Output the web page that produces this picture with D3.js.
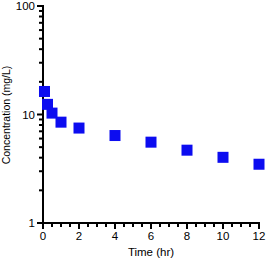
<!DOCTYPE html>
<html><head><meta charset="utf-8">
<script src="https://cdn.jsdelivr.net/npm/d3@7"></script>
<style>body{margin:0;background:#fff}svg{display:block}text{font-family:"Liberation Sans",Arial,sans-serif;fill:#000}</style>
</head><body>
<script>
const times = [0.083, 0.25, 0.5, 1, 2, 4, 6, 8, 10, 12];
const conc = [16.3, 12.4, 10.3, 8.5, 7.5, 6.4, 5.56, 4.69, 4.03, 3.48];
const xTickLabels = [0, 2, 4, 6, 8, 10, 12];
const yTickLabels = [1, 10, 100];
const xLabel = "Time (hr)";
const yLabel = "Concentration (mg/L)";

const W = 270, H = 260;
const svg = d3.select("body").append("svg").attr("width", W).attr("height", H);
const x = d3.scaleLinear().domain([0, 12]).range([43, 259]);
const y = d3.scaleLog().domain([1, 100]).range([223, 6]);

// minor ticks
const xMinor = d3.range(0, 12.01, 0.5).filter(v => !xTickLabels.includes(v));
const yMinor = [];
[1, 10].forEach(d => { for (let k = 2; k <= 9; k++) yMinor.push(d * k); });

const g = svg.append("g");
// x axis
g.append("line").attr("x1", x(0) - 1).attr("x2", x(12) + 1).attr("y1", 223).attr("y2", 223).attr("stroke", "#000").attr("stroke-width", 2);
g.selectAll(".xmaj").data(xTickLabels).enter().append("line")
  .attr("x1", d => x(d)).attr("x2", d => x(d)).attr("y1", 223).attr("y2", 229).attr("stroke", "#000").attr("stroke-width", 2);
g.selectAll(".xmin").data(xMinor).enter().append("line")
  .attr("x1", d => x(d)).attr("x2", d => x(d)).attr("y1", 223).attr("y2", 227).attr("stroke", "#000").attr("stroke-width", 2);
g.selectAll(".xl").data(xTickLabels).enter().append("text")
  .attr("x", d => x(d)).attr("y", 240).attr("text-anchor", "middle").attr("font-size", 11.5).text(d => d);
// y axis
g.append("line").attr("x1", 43).attr("x2", 43).attr("y1", y(100) - 1).attr("y2", y(1) + 1).attr("stroke", "#000").attr("stroke-width", 2);
g.selectAll(".ymaj").data(yTickLabels).enter().append("line")
  .attr("x1", 37).attr("x2", 43).attr("y1", d => y(d)).attr("y2", d => y(d)).attr("stroke", "#000").attr("stroke-width", 2);
g.selectAll(".ymin").data(yMinor).enter().append("line")
  .attr("x1", 39).attr("x2", 43).attr("y1", d => y(d)).attr("y2", d => y(d)).attr("stroke", "#000").attr("stroke-width", 2);
g.selectAll(".yl").data(yTickLabels).enter().append("text")
  .attr("x", 35).attr("y", d => y(d) + 4).attr("text-anchor", "end").attr("font-size", 11.5).text(d => d);
// labels
svg.append("text").attr("x", 151).attr("y", 256).attr("text-anchor", "middle").attr("font-size", 11.5).text(xLabel);
svg.append("text").attr("transform", "translate(10,115) rotate(-90)").attr("text-anchor", "middle").attr("font-size", 10.5).text(yLabel);
// points
const s = 11;
svg.selectAll(".pt").data(times.map((t, i) => [t, conc[i]])).enter().append("rect")
  .attr("x", d => x(d[0]) - s / 2).attr("y", d => y(d[1]) - s / 2).attr("width", s).attr("height", s).attr("fill", "#0c0cf0");
</script>
</body></html>
